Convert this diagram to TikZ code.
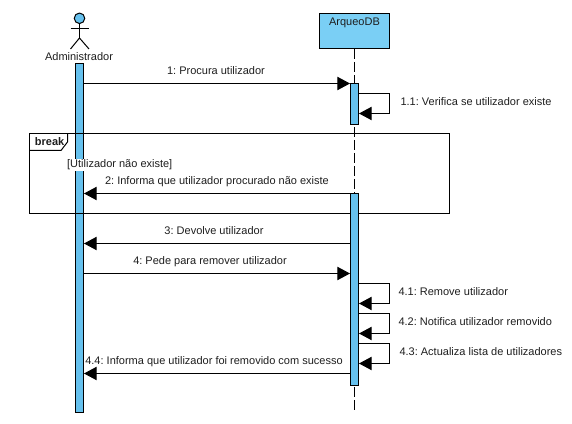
\documentclass[tikz,border=0pt]{standalone}
\usepackage{fontspec}
\setmainfont{Liberation Sans}
\usetikzlibrary{arrows.meta}
\definecolor{barblue}{RGB}{102,193,238}
\definecolor{headblue}{RGB}{122,207,245}
\definecolor{msgtext}{RGB}{30,30,30}
\frenchspacing
\tikzset{
    bar/.style={draw, line width=0.75pt, fill=barblue, minimum width=6pt, inner sep=0pt, anchor=north},
    msg/.style={line width=0.75pt, -{Triangle[length=9.5pt, width=10pt]}},
    lbl/.style={font=\fontsize{8.25}{10}\selectfont, text=msgtext, inner sep=0pt, anchor=base},
    lbll/.style={lbl, anchor=base west}
}
\begin{document}
\begin{tikzpicture}[x=0.75pt, y=-0.75pt, line width=0.75pt]
    \useasboundingbox (0,0) rectangle (572,424);
    % lifeline x positions
    \pgfmathsetmacro{\xa}{79.5}
    \pgfmathsetmacro{\xb}{354.5}

    % actor
    \node[draw, circle, fill=barblue, minimum size=10.5*0.75pt, inner sep=0pt] (head) at (\xa,18.3) {};
    \coordinate (hip) at (\xa,38);
    \coordinate (armL) at (70.5,29);
    \coordinate (armR) at (89,29);
    \coordinate (legL) at (70.5,49);
    \coordinate (legR) at (89,49);
    \draw (head) -- (hip);
    \draw (armL) -- (armR);
    \draw (legL) -- (hip) -- (legR);
    \node[lbl] (admin) at (79,60.5) {Administrador};

    % object box
    \node[draw, fill=headblue, minimum width=52.5pt, minimum height=26.25pt, inner sep=0pt] (db) at (\xb,31) {};
    \node[lbl] (dbname) at (\xb,25.5) {ArqueoDB};

    % lifeline
    \coordinate (dbend) at (\xb,413);
    \draw[dash pattern=on 7.5pt off 2.25pt] (db.south) -- (dbend);

    % actor bar, under the frame
    \node[bar, minimum height=261.4pt] (barA) at (\xa,63.5) {};

    % break frame
    \coordinate (fnw) at (29.5,133.5);
    \coordinate (fse) at (449.5,213.5);
    \draw (fnw) rectangle (fse);
    \draw (67.5,133.5) -- (67.5,142) -- (61,150.5) -- (29.5,150.5);
    \node[lbll, font=\fontsize{8.25}{10}\selectfont\bfseries] (brk) at (34.5,145.5) {break};
    \node[lbll, fill=white, inner sep=0.5pt] (guard) at (66,168) {[Utilizador não existe]};

    % database bars, over the frame
    \node[bar, minimum height=30.75pt] (barB) at (\xb,83.5) {};
    \node[bar, minimum height=144pt] (barC) at (\xb,193.5) {};

    % messages
    \draw[msg] (barA.east |- 0,83.5) coordinate (m1a) -- (barB.north west);
    \node[lbl] (m1) at (216,74.5) {1: Procura utilizador};

    \draw[msg] (barC.north west) coordinate (m2a) -- (barA.east |- 0,193.5);
    \node[lbl] (m2) at (217,184.5) {2: Informa que utilizador procurado não existe};

    \draw[msg] (barC.west |- 0,243.5) coordinate (m3a) -- (barA.east |- 0,243.5);
    \node[lbl] (m3) at (214,234.5) {3: Devolve utilizador};

    \draw[msg] (barA.east |- 0,273.5) coordinate (m4a) -- (barC.west |- 0,273.5);
    \node[lbl] (m4) at (210,265) {4: Pede para remover utilizador};

    \draw[msg] (barC.west |- 0,373.5) coordinate (m44a) -- (barA.east |- 0,373.5);
    \node[lbl] (m44) at (214,364.5) {4.4: Informa que utilizador foi removido com sucesso};

    % self messages
    \draw[msg] (barB.east |- 0,93.5) -- (389.5,93.5) -- (389.5,113.5) -- (barB.east |- 0,113.5);
    \node[lbll] (m11) at (400,105.5) {1.1: Verifica se utilizador existe};

    \foreach \ytop/\txt/\xl/\nm in {283.5/4.1: Remove utilizador/398/m41,
                                    313.5/4.2: Notifica utilizador removido/398/m42,
                                    343.5/4.3: Actualiza lista de utilizadores/399/m43} {
        \draw[msg] (barC.east |- 0,\ytop) -- (389.5,\ytop) -- (389.5,\ytop+20) -- (barC.east |- 0,\ytop+20);
        \node[lbll] (\nm) at (\xl,\ytop+12) {\txt};
    }
\end{tikzpicture}
\end{document}
